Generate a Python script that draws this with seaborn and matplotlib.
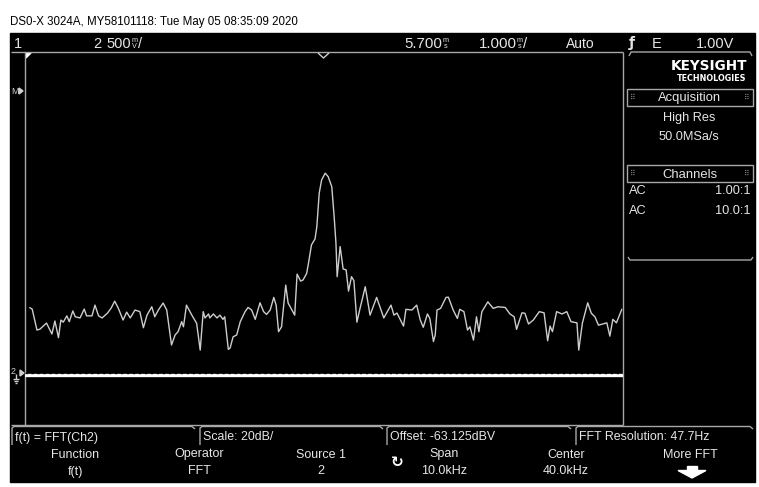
import matplotlib
matplotlib.use("Agg")
import matplotlib.pyplot as plt
from matplotlib.patches import Rectangle, Polygon
import pandas as pd
import seaborn as sns

# FFT of channel 2: frequency (kHz) and magnitude (dBV)
freq_khz = [
    35.08, 35.12, 35.20, 35.25, 35.36, 35.45, 35.50, 35.56, 35.60, 35.64,
    35.70, 35.74, 35.80, 35.84, 35.92, 35.99, 36.03, 36.12, 36.17, 36.23,
    36.29, 36.38, 36.44, 36.50, 36.56, 36.64, 36.70, 36.76, 36.84, 36.92,
    36.98, 37.04, 37.12, 37.17, 37.23, 37.31, 37.37, 37.45, 37.51, 37.56,
    37.62, 37.65, 37.70, 37.79, 37.87, 37.93, 37.98, 38.01, 38.07, 38.09,
    38.15, 38.21, 38.26, 38.31, 38.34, 38.40, 38.43, 38.48, 38.54, 38.60,
    38.68, 38.73, 38.79, 38.85, 38.93, 38.99, 39.04, 39.10, 39.16, 39.20,
    39.24, 39.29, 39.36, 39.40, 39.51, 39.55, 39.61, 39.65, 39.71, 39.74,
    39.79, 39.85, 39.88, 39.92, 39.96, 40.02, 40.07, 40.13, 40.17, 40.20,
    40.22, 40.27, 40.32, 40.37, 40.41, 40.46, 40.50, 40.55, 40.60, 40.69,
    40.77, 40.88, 41.00, 41.12, 41.17, 41.22, 41.33, 41.37, 41.47, 41.55,
    41.61, 41.66, 41.73, 41.77, 41.83, 41.86, 41.89, 41.95, 42.04, 42.08,
    42.16, 42.23, 42.27, 42.34, 42.40, 42.44, 42.50, 42.55, 42.59, 42.64,
    42.74, 42.83, 42.91, 43.03, 43.11, 43.18, 43.22, 43.31, 43.36, 43.42,
    43.50, 43.60, 43.68, 43.74, 43.78, 43.82, 43.89, 43.98, 44.06, 44.13,
    44.23, 44.26, 44.32, 44.41, 44.47, 44.53, 44.59, 44.73, 44.78, 44.83,
    44.89, 44.98,
]
level_dbv = [
    -92.8, -93.4, -102.4, -102.0, -99.4, -104.1, -98.5, -105.7, -98.1, -99.0,
    -96.3, -98.8, -94.2, -96.7, -97.2, -93.4, -96.3, -96.3, -91.7, -96.3,
    -97.2, -95.1, -93.0, -90.0, -93.0, -98.1, -94.7, -97.2, -93.8, -94.5,
    -101.4, -96.0, -92.4, -96.7, -93.8, -90.8, -93.8, -108.8, -104.5, -103.1,
    -98.8, -101.0, -91.7, -96.0, -99.5, -111.0, -94.5, -97.2, -95.5, -97.2,
    -95.5, -97.2, -96.0, -97.8, -96.7, -110.7, -110.1, -105.3, -104.5, -98.8,
    -94.5, -92.7, -93.8, -97.8, -90.7, -94.5, -95.7, -93.8, -88.4, -91.7,
    -103.1, -101.0, -83.1, -90.8, -96.0, -78.4, -81.4, -80.9, -78.1, -73.8,
    -65.9, -63.3, -58.1, -43.7, -38.0, -35.1, -36.6, -40.9, -53.8, -65.2,
    -79.5, -66.6, -76.2, -76.6, -85.7, -79.5, -81.2, -99.0, -93.4, -83.8,
    -96.0, -88.4, -97.2, -91.7, -96.0, -95.1, -100.7, -93.5, -93.8, -91.7,
    -98.1, -101.2, -95.5, -97.4, -107.3, -104.5, -93.8, -93.1, -88.4, -88.3,
    -93.8, -97.4, -93.5, -94.5, -102.4, -101.0, -106.7, -96.7, -103.1, -94.5,
    -90.3, -93.1, -92.4, -92.7, -95.5, -96.7, -102.1, -95.0, -95.2, -99.8,
    -98.1, -94.5, -95.0, -107.0, -100.7, -103.1, -94.5, -95.5, -94.5, -98.8,
    -99.3, -111.0, -99.5, -90.7, -95.2, -96.7, -100.3, -99.3, -105.0, -97.8,
    -99.3, -93.5,
]

center_khz = 40.0
span_khz = 10.0
offset_dbv = -63.125
scale_db_per_div = 20.0
n_vdiv = 8
ch2_level_dbv = -121.6

softkeys = [("Function", "f(t)"), ("Operator", "FFT"), ("Source 1", "2"),
            ("Span", "10.0kHz"), ("Center", "40.0kHz")]
status = ["f(t) = FFT(Ch2)", "Scale: 20dB/", "Offset: -63.125dBV",
          "FFT Resolution: 47.7Hz"]

sns.set_theme(style="dark")
plt.rcParams["font.family"] = ["Liberation Sans", "DejaVu Sans"]
plt.rcParams["lines.scale_dashes"] = False

W, H = 759, 487
fig = plt.figure(figsize=(W / 100, H / 100), dpi=100, facecolor="white")

# screen furniture drawn in pixel coordinates
deco = fig.add_axes([0, 0, 1, 1], zorder=0)
deco.set_xlim(0, W)
deco.set_ylim(H, 0)
deco.axis("off")
deco.add_patch(Rectangle((10, 33), 745, 449, color="black"))

FRAME = "#a8a8a8"
TXT = "#e6e6e6"


def txt(x, y, s, size=9.0, ha="left", color=TXT, **kw):
    deco.text(x, y + 1.5, s, fontsize=size, ha=ha, va="center", color=color,
              **kw)


def seg(xs, ys, color=FRAME, lw=1.0):
    deco.plot(xs, ys, color=color, lw=lw, solid_capstyle="butt")


# title above the screen
txt(10, 20, "DS0-X 3024A, MY58101118: Tue May 05 08:35:09 2020", size=8.3,
    color="black")

# top status bar
txt(14, 42, "1", size=10.5)
txt(93, 42, "2", size=10.5)
txt(106, 42, "500", size=10.5)
txt(131.5, 38.5, "m", size=5.2)
txt(132, 45.5, "V", size=5.2)
txt(137.5, 42, "/", size=10.5)
txt(404, 42, "5.700", size=10.8)
txt(443, 38.5, "m", size=5.2)
txt(443.5, 45.5, "s", size=5.2)
txt(479, 42, "1.000", size=10.8)
txt(517, 38.5, "m", size=5.2)
txt(517.5, 45.5, "s", size=5.2)
txt(523, 42, "/", size=10.8)
txt(566, 42, "Auto", size=10)
txt(629, 42, "ƒ", size=10, family="DejaVu Sans", weight="bold")
txt(652, 42, "E", size=10.5)
txt(734, 42, "1.00V", size=10.5, ha="right")

# plot frame
seg([11, 623], [52, 52])
seg([11, 623], [425, 425])
seg([25, 25], [52, 425])
seg([623, 623], [52, 425])
deco.add_patch(Polygon([(26, 53), (31, 53), (26, 58)], color="white"))
seg([318, 323.5, 329], [53, 58, 53], color="#cfcfcf")

# left-edge markers
txt(11, 90, "M", size=6.5, color="#d0d0d0")
deco.add_patch(Polygon([(19, 88), (23, 91), (19, 94)], color="#d0d0d0"))
txt(11, 370, "2", size=6.5, color="#d0d0d0")
deco.add_patch(Polygon([(20, 370), (24, 373), (20, 376)], color="#d0d0d0"))
seg([16, 16], [374, 379], color="#d0d0d0")
seg([13, 19], [379, 379], color="#d0d0d0")
seg([14, 18], [381, 381], color="#d0d0d0")
seg([15, 17], [383, 383], color="#d0d0d0")

# right info panel
seg([629, 631, 750, 752], [56, 52, 52, 56])
txt(747, 64, "KEYSIGHT", size=9.8, ha="right", family="DejaVu Sans",
    weight="bold", color="white")
txt(746, 77, "TECHNOLOGIES", size=5.8, ha="right", family="DejaVu Sans",
    weight="bold", color="white")
for y0, title in [(89, "Acquisition"), (165, "Channels")]:
    deco.add_patch(Rectangle((627, y0), 126, 17, fill=False, ec=FRAME, lw=1))
    txt(690, y0 + 8, title, size=9.4, ha="center")
    txt(633, y0 + 7, "⠿", size=5.5, ha="center", family="DejaVu Sans",
        color="#8a8a8a")
    txt(747, y0 + 7, "⠿", size=5.5, ha="center", family="DejaVu Sans",
        color="#8a8a8a")
txt(689, 117, "High Res", size=9.2, ha="center")
txt(689, 136, "50.0MSa/s", size=9.2, ha="center")
txt(629, 190, "AC", size=9.2)
txt(751, 190, "1.00:1", size=9.2, ha="right")
txt(629, 209, "AC", size=9.2)
txt(751, 209, "10.0:1", size=9.2, ha="right")
seg([628, 630, 751, 753], [257, 260, 260, 257])

# bracketed status row under the screen
for (x0, x1), label in zip([(12, 195), (200, 383), (387, 571), (576, 753)],
                           status):
    seg([x0, x0, x0 + 2, x1 - 3, x1], [445, 428, 426.5, 426.5, 429])
    txt(x0 + 3, 436, label, size=8.9)

# softkey captions
for cx, (top, bottom) in zip([75, 199, 321, 444, 566], softkeys):
    txt(cx, 453, top, size=9.0, ha="center")
    txt(cx, 470, bottom, size=9.0, ha="center")
txt(397, 461, "↻", size=11, ha="center", family="DejaVu Sans",
    weight="bold", color="white")
txt(690, 453, "More FFT", size=9.0, ha="center")
deco.add_patch(Rectangle((687, 466), 10, 5, color="white"))
deco.add_patch(Polygon([(678, 470.5), (706, 470.5), (692, 478)], color="white"))

# FFT display area
ax = fig.add_axes([25 / W, 1 - 425 / H, 598 / W, 373 / H], zorder=2)
ax.set_facecolor("none")
df = pd.DataFrame({"freq": freq_khz, "level": level_dbv})
sns.lineplot(data=df, x="freq", y="level", ax=ax, color="#cdcdcd",
             lw=1.0, sort=False, estimator=None)

# channel 2 trace level
ax.axhline(ch2_level_dbv, color="white", lw=2.4)
ax.axhline(ch2_level_dbv + 0.75, color="black", lw=1.0, dashes=(1.6, 2.7))

half = n_vdiv / 2 * scale_db_per_div
ax.set_xlim(center_khz - span_khz / 2, center_khz + span_khz / 2)
ax.set_ylim(offset_dbv - half, offset_dbv + half)
ax.set_xticks([])
ax.set_yticks([])
ax.set_xlabel("")
ax.set_ylabel("")
ax.grid(False)
for sp in ax.spines.values():
    sp.set_visible(False)

fig.savefig("out.png", dpi=100, facecolor="white")
